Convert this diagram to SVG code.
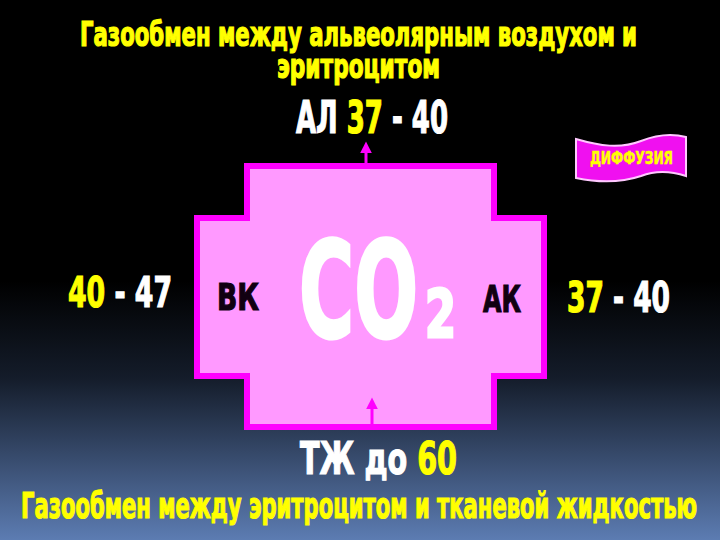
<svg xmlns="http://www.w3.org/2000/svg" width="720" height="540" viewBox="0 0 720 540">
<defs>
<linearGradient id="bg" x1="0" y1="0" x2="0" y2="1">
<stop offset="0" stop-color="#000000"/>
<stop offset="0.52" stop-color="#000000"/>
<stop offset="0.7" stop-color="#141c2a"/>
<stop offset="1" stop-color="#5c7cb2"/>
</linearGradient>
<marker id="ah" viewBox="0 0 10 10" refX="2" refY="5" markerWidth="12" markerHeight="12" markerUnits="userSpaceOnUse" orient="auto">
<path d="M0,0 L10,5 L0,10 Z" fill="#ff00ff"/>
</marker>
</defs>
<style>
.t{font-family:"Liberation Sans Narrow","DejaVu Sans Condensed","Liberation Sans",sans-serif;font-weight:bold;}
.y{fill:#ffff00;stroke:#ffff00;}
.w{fill:#ffffff;stroke:#ffffff;}
.k{fill:#110011;stroke:#110011;}
.s1{stroke-width:1.2;}
.s2{stroke-width:3;}
.sh{stroke:#222200;stroke-width:3;paint-order:stroke;}
</style>
<rect x="0" y="0" width="720" height="540" fill="url(#bg)"/>

<g id="title-top" class="t">
<text class="y s1" x="80" y="46" font-size="33" textLength="557" lengthAdjust="spacingAndGlyphs">Газообмен между альвеолярным воздухом и</text>
<text class="y s1" x="277" y="78" font-size="33" textLength="163" lengthAdjust="spacingAndGlyphs">эритроцитом</text>
</g>

<g id="node-al" class="t">
<text x="296" y="133" font-size="44" textLength="152" lengthAdjust="spacingAndGlyphs"><tspan class="w s1">АЛ </tspan><tspan class="y s1">37</tspan><tspan class="w s1"> - 40</tspan></text>
</g>

<g id="node-diffusion">
<path d="M576,139 C600,146 620,149 641,141 C656,135 671,133 686,137 L686,176 C671,171 656,170 641,176 C620,183 600,183 576,178 Z" fill="#f010f0" stroke="#ffc8ff" stroke-width="2"/>
<text class="t y" x="590" y="164" font-size="18" stroke-width="0.5" textLength="83" lengthAdjust="spacingAndGlyphs">ДИФФУЗИЯ</text>
</g>

<g id="node-cell">
<path d="M247,166 L494,166 L494,218 L544,218 L544,376 L494,376 L494,427 L247,427 L247,376 L197,376 L197,218 L247,218 Z" fill="#ff99ff" stroke="#ff00ff" stroke-width="6" stroke-linejoin="miter"/>
<text class="t w s2" x="299" y="337" font-size="134" textLength="119" lengthAdjust="spacingAndGlyphs">CO</text>
<text class="t w s2" x="425" y="337" font-size="66" textLength="31" lengthAdjust="spacingAndGlyphs">2</text>
<text class="t k s1" x="217" y="310" font-size="38" textLength="42" lengthAdjust="spacingAndGlyphs">ВК</text>
<text class="t k s1" x="483" y="312" font-size="38" textLength="38" lengthAdjust="spacingAndGlyphs">АК</text>
</g>

<g id="node-left" class="t">
<text x="68" y="307" font-size="42" textLength="104" lengthAdjust="spacingAndGlyphs"><tspan class="y s1">40</tspan><tspan class="w s1"> - 47</tspan></text>
</g>

<g id="node-right" class="t">
<text x="567" y="312" font-size="42" textLength="103" lengthAdjust="spacingAndGlyphs"><tspan class="y s1">37</tspan><tspan class="w s1"> - 40</tspan></text>
</g>

<g id="node-tzh" class="t">
<text x="300" y="474" font-size="44" textLength="157" lengthAdjust="spacingAndGlyphs"><tspan class="w s1">ТЖ  до </tspan><tspan class="y s1">60</tspan></text>
</g>

<g id="connectors" stroke="#ff00ff" stroke-width="3" fill="none">
<line x1="366" y1="163" x2="366" y2="151" marker-end="url(#ah)"/>
<line x1="372" y1="424" x2="372" y2="407" marker-end="url(#ah)"/>
</g>

<g id="title-bottom" class="t">
<text class="y s1" x="21" y="518" font-size="35" textLength="676" lengthAdjust="spacingAndGlyphs">Газообмен между эритроцитом и тканевой жидкостью</text>
</g>
</svg>
